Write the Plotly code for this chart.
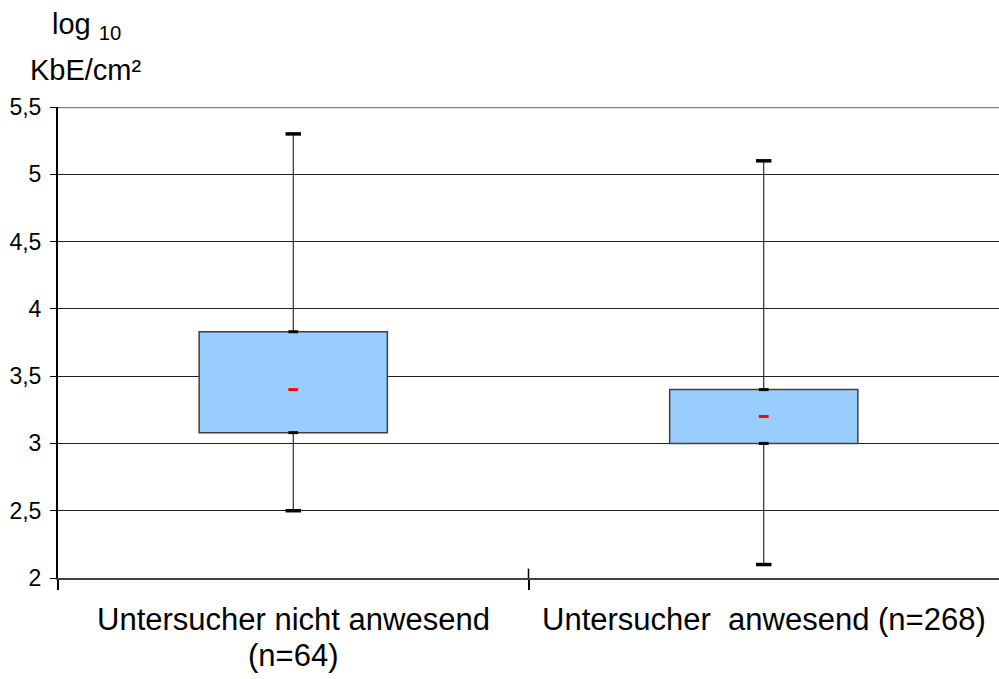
import plotly.graph_objects as go

# Box-plot summaries (log10 KbE/cm²)
categories = ["Untersucher nicht anwesend\n(n=64)", "Untersucher\u00a0 anwesend (n=268)"]
lower_whisker = [2.5, 2.1]
q1 = [3.08, 3.0]
median = [3.4, 3.2]
q3 = [3.83, 3.4]
upper_whisker = [5.3, 5.1]

ytick_vals = [2, 2.5, 3, 3.5, 4, 4.5, 5, 5.5]
ytick_text = ["2", "2,5", "3", "3,5", "4", "4,5", "5", "5,5"]

FONT = "Liberation Sans, Arial, sans-serif"
xpos = list(range(len(categories)))

fig = go.Figure()

# whisker stems (below and above each box)
wx, wy = [], []
for i in xpos:
    wx += [i, i, None, i, i, None]
    wy += [lower_whisker[i], q1[i], None, q3[i], upper_whisker[i], None]
fig.add_trace(go.Scatter(x=wx, y=wy, mode="lines",
                         line=dict(color="black", width=1),
                         hoverinfo="skip", showlegend=False))

# interquartile boxes
fig.add_trace(go.Bar(x=xpos, base=q1, y=[b - a for a, b in zip(q1, q3)],
                     width=0.4,
                     marker=dict(color="#99CCFF", line=dict(color="#404040", width=1.5)),
                     showlegend=False))

# whisker caps
fig.add_trace(go.Scatter(x=xpos + xpos, y=lower_whisker + upper_whisker, mode="markers",
                         marker=dict(symbol="line-ew", size=11,
                                     line=dict(color="black", width=3.5)),
                         showlegend=False))
# quartile marks on the stem
fig.add_trace(go.Scatter(x=xpos + xpos, y=q1 + q3, mode="markers",
                         marker=dict(symbol="line-ew", size=7,
                                     line=dict(color="black", width=3)),
                         showlegend=False))
# median marks
fig.add_trace(go.Scatter(x=xpos, y=median, mode="markers",
                         marker=dict(symbol="line-ew", size=7,
                                     line=dict(color="red", width=3)),
                         showlegend=False))

# category labels below the axis
annotations = []
for i, lab in enumerate(categories):
    for k, line in enumerate(lab.split("\n")):
        annotations.append(dict(x=i, xref="x", y=-0.089 - k * 0.0745, yref="paper",
                                text=line, showarrow=False, xanchor="center",
                                yanchor="middle",
                                font=dict(family=FONT, size=31, color="black")))

# y-axis unit title
annotations.append(dict(x=0.03, xref="paper", y=1.172, yref="paper",
                        text="log <sub>10</sub>", showarrow=False,
                        xanchor="center", yanchor="middle",
                        font=dict(family=FONT, size=29, color="black")))
annotations.append(dict(x=0.0298, xref="paper", y=1.0786, yref="paper",
                        text="KbE/cm²", showarrow=False,
                        xanchor="center", yanchor="middle",
                        font=dict(family=FONT, size=29, color="black")))

fig.update_layout(
    width=999, height=679,
    margin=dict(l=58, r=0, t=107, b=101),
    paper_bgcolor="white", plot_bgcolor="white",
    font=dict(family=FONT, color="black"),
    annotations=annotations,
    shapes=[
        dict(type="line", xref="paper", yref="y", x0=0, x1=1, y0=5.5, y1=5.5,
             line=dict(color="#808080", width=2.5)),
        dict(type="line", xref="x", yref="paper", x0=0.5, x1=0.5, y0=0, y1=0.02,
             line=dict(color="black", width=1.5)),
    ],
    xaxis=dict(range=[-0.5, 1.5], tickvals=[-0.5, 0.5], showticklabels=False,
               showgrid=False, zeroline=False,
               showline=True, linecolor="#404040", linewidth=2,
               ticks="outside", ticklen=10, tickcolor="black", tickwidth=1.5),
    yaxis=dict(range=[2, 5.5], tickvals=ytick_vals, ticktext=ytick_text,
               showgrid=True, gridcolor="#202020", gridwidth=1,
               zeroline=False, showline=True, linecolor="black", linewidth=2,
               ticks="outside", ticklen=6, tickcolor="black",
               ticklabelstandoff=4,
               tickfont=dict(family=FONT, size=23, color="black")),
)

fig.write_html("out.html")
